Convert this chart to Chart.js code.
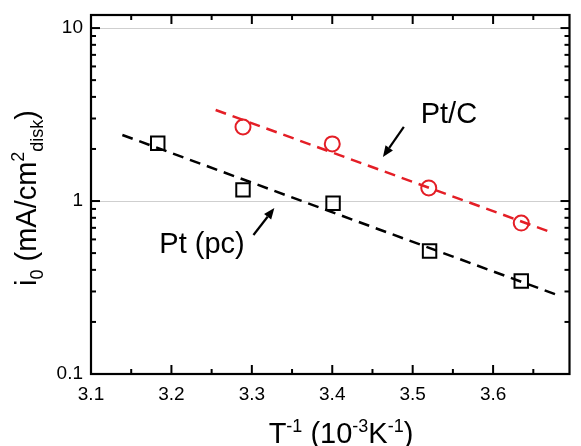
<!DOCTYPE html>
<html>
<head>
<meta charset="utf-8">
<script src="https://cdn.jsdelivr.net/npm/chart.js@4/dist/chart.umd.min.js"></script>
<style>
html,body{margin:0;padding:0;background:#fff;}
#wrap{width:581px;height:446px;position:relative;}
</style>
</head>
<body>
<div id="wrap"><canvas id="c"></canvas></div>
<script>
// ---- data ----
const ptPcX = [3.183, 3.289, 3.401, 3.521, 3.635];
const ptPcY = [2.16, 1.16, 0.97, 0.514, 0.345];
const ptCX = [3.289, 3.400, 3.520, 3.635];
const ptCY = [2.68, 2.14, 1.19, 0.746];
const fitPcX = [3.139, 3.680];
const fitPcY = [2.41, 0.286];
const fitCX = [3.255, 3.672];
const fitCY = [3.36, 0.66];
const xTicks = [3.1, 3.2, 3.3, 3.4, 3.5, 3.6];
const yTicks = [0.1, 1, 10];
const labelTexts = ["Pt (pc)", "Pt/C"];
const labelX = [3.185, 3.510];
const labelY = [0.50, 2.82];
const arrowFromX = [3.302, 3.489];
const arrowFromY = [0.636, 2.68];
const arrowToX = [3.328, 3.463];
const arrowToY = [0.911, 1.80];

const pts = (xs, ys) => xs.map((x, i) => ({x: x, y: ys[i]}));
const RED = '#e41e26';
const FONT = '"Liberation Sans", Arial, Helvetica, sans-serif';

function richWidth(ctx, parts) {
  let w = 0;
  parts.forEach(p => { ctx.font = p.size + 'px ' + FONT; w += ctx.measureText(p.t).width; });
  return w;
}
function drawRich(ctx, parts, cx, baseY) {
  const w = richWidth(ctx, parts);
  let x = cx - w / 2;
  ctx.textBaseline = 'alphabetic';
  ctx.textAlign = 'left';
  parts.forEach(p => {
    ctx.font = p.size + 'px ' + FONT;
    ctx.fillText(p.t, x, baseY + (p.dy || 0));
    x += ctx.measureText(p.t).width;
  });
}

const decor = {
  id: 'decor',
  afterDraw(chart) {
    const ctx = chart.ctx;
    const a = chart.chartArea;
    const xs = chart.scales.x, ys = chart.scales.y;
    ctx.save();
    ctx.strokeStyle = '#000';
    ctx.fillStyle = '#000';
    // frame
    ctx.lineWidth = 2.2;
    ctx.strokeRect(a.left, a.top, a.right - a.left, a.bottom - a.top);
    const tick = (x1, y1, x2, y2) => { ctx.beginPath(); ctx.moveTo(x1, y1); ctx.lineTo(x2, y2); ctx.stroke(); };
    ctx.lineWidth = 2;
    for (let i = 0; i <= 12; i++) {
      const v = 3.1 + i * 0.05;
      const px = xs.getPixelForValue(v);
      if (px > a.right - 1) continue;
      const len = (i % 2 === 0) ? 9 : 5;
      tick(px, a.bottom, px, a.bottom - len);
      tick(px, a.top, px, a.top + len);
    }
    for (let d = -1; d <= 1; d++) {
      for (let m = 1; m <= 9; m++) {
        const v = m * Math.pow(10, d);
        if (v > ys.max) continue;
        const py = ys.getPixelForValue(v);
        const len = (m === 1) ? 9 : 5;
        tick(a.left, py, a.left + len, py);
        tick(a.right, py, a.right - len, py);
      }
    }
    // annotations
    ctx.font = '29px ' + FONT;
    ctx.textAlign = 'left';
    ctx.textBaseline = 'alphabetic';
    labelTexts.forEach((t, i) => {
      ctx.fillText(t, xs.getPixelForValue(labelX[i]), ys.getPixelForValue(labelY[i]));
    });
    arrowFromX.forEach((fx, i) => {
      const x1 = xs.getPixelForValue(fx), y1 = ys.getPixelForValue(arrowFromY[i]);
      const x2 = xs.getPixelForValue(arrowToX[i]), y2 = ys.getPixelForValue(arrowToY[i]);
      const ang = Math.atan2(y2 - y1, x2 - x1);
      const hl = 11, hw = 4.5;
      const bx = x2 - hl * Math.cos(ang), by = y2 - hl * Math.sin(ang);
      ctx.lineWidth = 2.2;
      tick(x1, y1, bx, by);
      ctx.beginPath();
      ctx.moveTo(x2, y2);
      ctx.lineTo(bx + hw * Math.sin(ang), by - hw * Math.cos(ang));
      ctx.lineTo(bx - hw * Math.sin(ang), by + hw * Math.cos(ang));
      ctx.closePath();
      ctx.fill();
    });
    // x axis title
    const main = 29, sup = 18;
    drawRich(ctx, [
      {t: 'T', size: main}, {t: '-1', size: sup, dy: -11},
      {t: ' (10', size: main}, {t: '-3', size: sup, dy: -11},
      {t: 'K', size: main}, {t: '-1', size: sup, dy: -11},
      {t: ')', size: main}
    ], 341, 443);
    // y axis title (rotated)
    ctx.save();
    ctx.translate(36, 198);
    ctx.rotate(-Math.PI / 2);
    drawRich(ctx, [
      {t: 'i', size: main}, {t: '0', size: sup, dy: 7},
      {t: ' (mA/cm', size: main}, {t: '2', size: sup, dy: -12},
      {t: 'disk', size: sup, dy: 7},
      {t: ')', size: main}
    ], 0, 0);
    ctx.restore();
    ctx.restore();
  }
};

new Chart(document.getElementById('c'), {
  type: 'scatter',
  data: {
    datasets: [
      {data: pts(fitPcX, fitPcY), showLine: true, borderColor: '#000', borderWidth: 2.5, borderDash: [11, 7], pointRadius: 0, fill: false},
      {data: pts(fitCX, fitCY), showLine: true, borderColor: RED, borderWidth: 2.5, borderDash: [11, 7], pointRadius: 0, fill: false},
      {data: pts(ptPcX, ptPcY), pointStyle: 'rect', pointRadius: 9.5, borderColor: '#000', borderWidth: 2, backgroundColor: 'rgba(0,0,0,0)'},
      {data: pts(ptCX, ptCY), pointStyle: 'circle', pointRadius: 7.5, borderColor: RED, borderWidth: 2, backgroundColor: 'rgba(0,0,0,0)'}
    ]
  },
  options: {
    responsive: true,
    maintainAspectRatio: false,
    animation: false,
    layout: {padding: {top: 15, right: 2, left: 0, bottom: 0}},
    plugins: {legend: {display: false}, tooltip: {enabled: false}},
    scales: {
      x: {
        type: 'linear', min: 3.1, max: 3.695,
        afterBuildTicks: s => { s.ticks = xTicks.map(v => ({value: v})); },
        afterFit: s => { s.height = 72; s.paddingLeft = 0; s.paddingRight = 0; },
        grid: {display: false, drawTicks: false},
        border: {display: false},
        ticks: {color: '#000', font: {size: 19, family: FONT}, padding: 9, maxRotation: 0,
          callback: v => v.toFixed(1)}
      },
      y: {
        type: 'logarithmic', min: 0.1, max: 11.9,
        afterBuildTicks: s => { s.ticks = yTicks.map(v => ({value: v})); },
        afterFit: s => { s.width = 91; s.paddingTop = 0; s.paddingBottom = 0; },
        grid: {display: true, drawTicks: false, lineWidth: 1,
          color: c => (c.tick && (c.tick.value === 1 || c.tick.value === 10)) ? '#cfcfcf' : 'rgba(0,0,0,0)'},
        border: {display: false},
        ticks: {color: '#000', font: {size: 19, family: FONT}, padding: 8,
          callback: v => String(v)}
      }
    }
  },
  plugins: [decor]
});
</script>
</body>
</html>
